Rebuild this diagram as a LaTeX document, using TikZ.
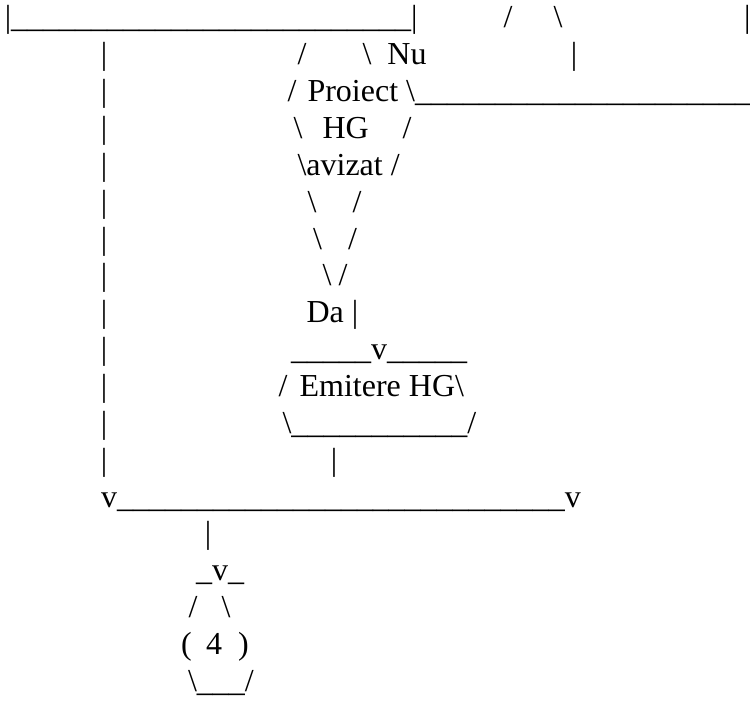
\documentclass[tikz,border=0pt]{standalone}
\usepackage{fontspec}
\setmainfont{Liberation Serif}
\usetikzlibrary{positioning}

\begin{document}
\begin{tikzpicture}[
    x=1pt, y=1pt,
    txt/.style={anchor=base west, inner sep=0pt, outer sep=0pt, font=\fontsize{32}{36.8}\selectfont}
]
\useasboundingbox (0,0) rectangle (750,-701);

% top line
\node[txt] (topline) at (4.8,-28) {\textbar\_\_\_\_\_\_\_\_\_\_\_\_\_\_\_\_\_\_\_\_\_\_\_\_\_\textbar};
\node[txt] (topl) at (503.5,-28) {/};
\node[txt] (topr) at (553.5,-28) {\textbackslash};
\node[txt] (topend) at (744.2,-28) {\textbar};

% left return line
\node[txt] (bar1) at (100.8,-64.85) {\textbar};
\node[txt] (bar2) at (100.8,-101.7) {\textbar};
\node[txt] (bar3) at (100.8,-138.55) {\textbar};
\node[txt] (bar4) at (100.8,-175.4) {\textbar};
\node[txt] (bar5) at (100.8,-212.25) {\textbar};
\node[txt] (bar6) at (100.8,-249.1) {\textbar};
\node[txt] (bar7) at (100.8,-285.95) {\textbar};
\node[txt] (bar8) at (100.8,-322.8) {\textbar};
\node[txt] (bar9) at (100.8,-359.65) {\textbar};
\node[txt] (bar10) at (100.8,-396.5) {\textbar};
\node[txt] (bar11) at (100.8,-433.35) {\textbar};
\node[txt] (bar12) at (100.8,-470.2) {\textbar};

% decision: Proiect HG avizat
\node[txt] (dl1) at (297.5,-64.85) {/};
\node[txt] (nu) at (362.5,-64.85) {\textbackslash\ \ Nu};
\node[txt] (nubar) at (570.8,-64.85) {\textbar};
\node[txt] (dl2) at (287.5,-101.7) {/};
\node[txt] (proiect) at (307.5,-101.7) {Proiect \textbackslash\_\_\_\_\_\_\_\_\_\_\_\_\_\_\_\_\_\_\_\_\_};
\node[txt] (dl3) at (293.5,-138.55) {\textbackslash};
\node[txt] (hg) at (322.5,-138.55) {HG};
\node[txt] (dr3) at (402.5,-138.55) {/};
\node[txt] (avizat) at (297.5,-175.4) {\textbackslash avizat /};
\node[txt] (dl5) at (307.5,-212.25) {\textbackslash};
\node[txt] (dr5) at (352.5,-212.25) {/};
\node[txt] (dl6) at (313,-249.1) {\textbackslash};
\node[txt] (dr6) at (348,-249.1) {/};
\node[txt] (dl7) at (322.5,-285.95) {\textbackslash};
\node[txt] (dr7) at (338.5,-285.95) {/};
\node[txt] (da) at (306.5,-322.8) {Da \textbar};

% Emitere HG
\node[txt] (arrowda) at (291,-359.65) {\_\_\_\_\_v\_\_\_\_\_};
\node[txt] (el10) at (278.5,-396.5) {/};
\node[txt] (emitere) at (299.6,-396.5) {Emitere HG\textbackslash};
\node[txt] (emitbot) at (282.5,-433.35) {\textbackslash\_\_\_\_\_\_\_\_\_\_\_/};
\node[txt] (emitbar) at (330.8,-470.2) {\textbar};

% join and end (4)
\node[txt] (joinline) at (101,-507.05) {v\_\_\_\_\_\_\_\_\_\_\_\_\_\_\_\_\_\_\_\_\_\_\_\_\_\_\_\_v};
\node[txt] (endbar) at (204.8,-543.9) {\textbar};
\node[txt] (endv) at (196,-580.75) {\_v\_};
\node[txt] (cl) at (188.5,-617.6) {/};
\node[txt] (cr) at (221.5,-617.6) {\textbackslash};
\node[txt] (lpar) at (181,-654.45) {(};
\node[txt] (four) at (206,-654.45) {4};
\node[txt] (rpar) at (238,-654.45) {)};
\node[txt] (cbot) at (188,-691.3) {\textbackslash\_\_\_/};

\end{tikzpicture}
\end{document}
